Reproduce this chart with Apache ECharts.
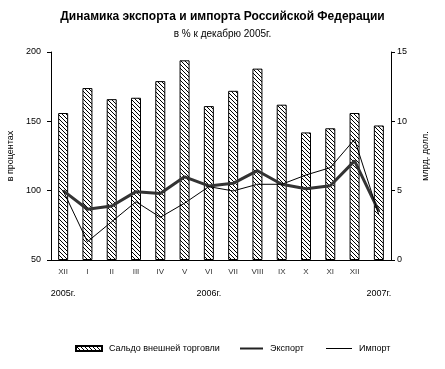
<!DOCTYPE html>
<html><head><meta charset="utf-8">
<script src="https://cdn.jsdelivr.net/npm/echarts@6/dist/echarts.min.js"></script>
<style>html,body{margin:0;padding:0;background:#fff}#c{width:445px;height:369px}</style>
</head><body><div id="c"></div>
<script>
var categories = ['XII','I','II','III','IV','V','VI','VII','VIII','IX','X','XI','XII',''];
var yearLabels = ['2005г.','','','','','','2006г.','','','','','','','2007г.'];
var saldo = [10.6, 12.4, 11.6, 11.7, 12.9, 14.4, 11.1, 12.2, 13.8, 11.2, 9.2, 9.5, 10.6, 9.7];
var exportVals = [100, 86.6, 89, 99.3, 98, 110, 103.4, 105.3, 114.4, 104.6, 101.4, 103.6, 121.5, 85];
var importVals = [100, 63.2, 77.6, 92, 80.8, 91, 102.9, 99.8, 104.6, 104.6, 111.3, 116.6, 137, 82.5];
var leftTicks = [50, 200, 50];   // min, max, interval
var rightTicks = [0, 15, 5];

// hatch pattern "\\\\"
var pc = document.createElement('canvas');
pc.width = 4; pc.height = 4;
var ctx = pc.getContext('2d');
var img = ctx.createImageData(4, 4);
for (var y = 0; y < 4; y++) for (var x = 0; x < 4; x++) {
  var k = (y * 4 + x) * 4;
  var on = ((x - y + 4) % 4) === 0;
  img.data[k] = on ? 0 : 255; img.data[k+1] = on ? 0 : 255; img.data[k+2] = on ? 0 : 255; img.data[k+3] = 255;
}
ctx.putImageData(img, 0, 0);

var font = 'Liberation Sans, Arial, sans-serif';
var legendText = {fontSize: 9, color: '#000', fontFamily: font, padding: [0, 0, 0, 2]};
var chart = echarts.init(document.getElementById('c'), null, {renderer: 'canvas'});
chart.setOption({
  animation: false,
  backgroundColor: '#fff',
  textStyle: {fontFamily: font},
  title: {
    text: 'Динамика экспорта и импорта Российской Федерации',
    subtext: 'в % к декабрю 2005г.',
    left: 'center', top: 6, itemGap: 6,
    textStyle: {fontSize: 12, fontWeight: 'bold', color: '#000', fontFamily: font},
    subtextStyle: {fontSize: 10, color: '#000', fontFamily: font}
  },
  grid: {left: 51, right: 54, top: 52, bottom: 109, containLabel: false, outerBoundsMode: 'none'},
  legend: [{
    left: 75, top: 344, padding: 0, itemWidth: 26, itemHeight: 5,
    textStyle: legendText,
    data: [{name: 'Сальдо внешней торговли', icon: 'rect'}]
  }, {
    left: 240, top: 344, padding: 0, itemWidth: 23, itemHeight: 2,
    textStyle: legendText,
    data: [{name: 'Экспорт', icon: 'rect', itemStyle: {color: '#222'}}]
  }, {
    left: 326, top: 344, padding: 0, itemWidth: 26, itemHeight: 1,
    textStyle: legendText,
    data: [{name: 'Импорт', icon: 'rect', itemStyle: {color: '#000'}}]
  }],
  xAxis: [{
    type: 'category', data: categories, boundaryGap: true,
    axisLine: {lineStyle: {color: '#000', width: 1}},
    axisTick: {length: 4, lineStyle: {color: '#000'}},
    axisLabel: {fontSize: 8, color: '#333', margin: 8, interval: 0}
  }, {
    type: 'category', data: yearLabels, position: 'bottom', offset: 21,
    axisLine: {show: false}, axisTick: {show: false},
    axisLabel: {fontSize: 9, color: '#000', margin: 8, interval: 0}
  }],
  yAxis: [{
    type: 'value', min: leftTicks[0], max: leftTicks[1], interval: leftTicks[2],
    name: 'в процентах', nameLocation: 'middle', nameGap: 36, nameRotate: 90,
    nameTextStyle: {fontSize: 9, color: '#000'},
    axisLine: {show: true, lineStyle: {color: '#000'}},
    axisTick: {show: true, length: 4, lineStyle: {color: '#000'}},
    axisLabel: {fontSize: 9, color: '#000', margin: 10},
    splitLine: {show: false}
  }, {
    type: 'value', min: rightTicks[0], max: rightTicks[1], interval: rightTicks[2],
    position: 'right',
    name: 'млрд. долл.', nameLocation: 'middle', nameGap: 30, nameRotate: 90,
    nameTextStyle: {fontSize: 9, color: '#000', padding: [0, 0, 12, 0]},
    axisLine: {show: true, lineStyle: {color: '#000'}},
    axisTick: {show: true, length: 4, lineStyle: {color: '#000'}},
    axisLabel: {fontSize: 9, color: '#000', margin: 6},
    splitLine: {show: false}
  }],
  series: [{
    name: 'Сальдо внешней торговли', type: 'bar', yAxisIndex: 1, xAxisIndex: 0,
    data: saldo, barWidth: 10,
    itemStyle: {color: {image: pc, repeat: 'repeat'}, borderColor: '#000', borderWidth: 1}
  }, {
    name: 'Экспорт', type: 'line', yAxisIndex: 0, xAxisIndex: 0,
    data: exportVals, symbol: 'none', z: 5,
    lineStyle: {color: '#333', width: 3}, itemStyle: {color: '#333'}
  }, {
    name: 'Импорт', type: 'line', yAxisIndex: 0, xAxisIndex: 0,
    data: importVals, symbol: 'none', z: 6,
    lineStyle: {color: '#000', width: 1}, itemStyle: {color: '#000'}
  }]
});
</script></body></html>
